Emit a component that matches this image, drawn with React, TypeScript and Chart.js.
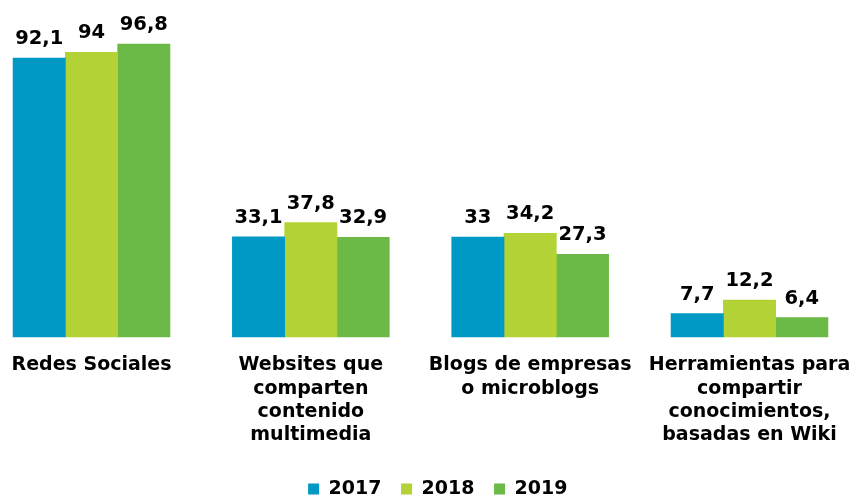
import React, { useEffect, useRef } from "react";
import { Chart, registerables } from "chart.js";

Chart.register(...registerables);

const categories: string[][] = [
  ["Redes Sociales"],
  ["Websites que", "comparten", "contenido", "multimedia"],
  ["Blogs de empresas", "o microblogs"],
  ["Herramientas para", "compartir", "conocimientos,", "basadas en Wiki"],
];
const seriesNames = ["2017", "2018", "2019"];
const values2017 = [92.1, 33.1, 33, 7.7];
const values2018 = [94, 37.8, 34.2, 12.2];
const values2019 = [96.8, 32.9, 27.3, 6.4];
const colors = ["#0099c6", "#b3d236", "#6bb946"];

const FONT = "'DejaVu Sans', Verdana, sans-serif";

const valueLabels = {
  id: "valueLabels",
  afterDatasetsDraw(chart: any) {
    const ctx = chart.ctx;
    ctx.save();
    ctx.font = `bold 19.5px ${FONT}`;
    ctx.fillStyle = "#000";
    ctx.textAlign = "center";
    ctx.textBaseline = "alphabetic";
    chart.data.datasets.forEach((ds: any, di: number) => {
      const meta = chart.getDatasetMeta(di);
      meta.data.forEach((el: any, i: number) => {
        const v = ds.data[i] as number;
        const txt = String(v).replace(".", ",");
        ctx.fillText(txt, el.x, el.y - 14);
      });
    });
    ctx.restore();
  },
};

const legendPlace = {
  id: "legendPlace",
  afterLayout(chart: any) {
    const lg = chart.legend;
    if (!lg) return;
    const w = lg.right - lg.left;
    const h = lg.bottom - lg.top;
    lg.left = 288.5;
    lg.right = lg.left + w;
    lg.top = 460;
    lg.bottom = lg.top + h;
  },
};

export default function App() {
  const ref = useRef<HTMLCanvasElement | null>(null);
  useEffect(() => {
    if (!ref.current) return;
    const chart = new Chart(ref.current, {
      type: "bar",
      data: {
        labels: categories,
        datasets: [values2017, values2018, values2019].map((d, i) => ({
          label: seriesNames[i],
          data: d,
          backgroundColor: colors[i],
          borderWidth: 0,
          barThickness: 52.3,
          clip: false as any,
        })),
      },
      options: {
        animation: false,
        responsive: true,
        maintainAspectRatio: false,
        layout: { padding: { left: 91.5, right: 104.5, top: 34.3, bottom: 2.8 } },
        scales: {
          x: {
            offset: false,
            grid: { display: false, drawTicks: true, tickLength: 17 },
            border: { display: false },
            ticks: {
              padding: 0,
              autoSkip: false,
              maxRotation: 0,
              minRotation: 0,
              color: "#000",
              font: { family: FONT, size: 19, weight: "bold", lineHeight: 1.22 },
            },
          },
          y: { display: false, min: 0, max: 100 },
        },
        plugins: {
          tooltip: { enabled: false },
          legend: {
            position: "bottom",
            align: "start",
            labels: {
              boxWidth: 11,
              boxHeight: 11,
              padding: 19.6,
              color: "#000",
              font: { family: FONT, size: 19, weight: "bold" },
            },
          },
        },
      },
      plugins: [valueLabels, legendPlace],
    });
    return () => chart.destroy();
  }, []);
  return (
    <div style={{ position: "fixed", left: 0, top: 0, width: 854, height: 498, background: "#fff" }}>
      <canvas ref={ref} />
    </div>
  );
}
